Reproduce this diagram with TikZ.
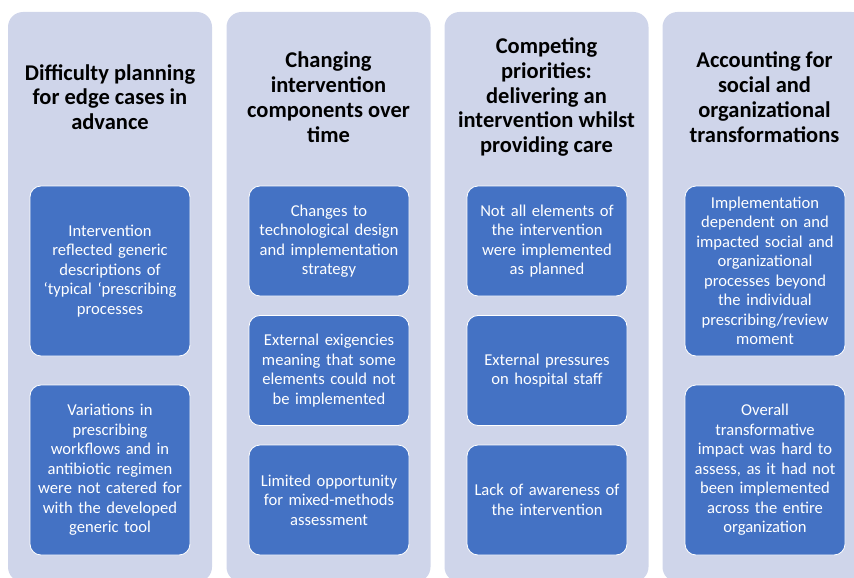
\documentclass[tikz,border=0pt]{standalone}
\usepackage{fontspec}
\setmainfont{Carlito}
\usepackage{tikz}
\definecolor{panelbg}{HTML}{CFD5EA}
\definecolor{boxblue}{HTML}{4472C4}

\begin{document}
\begin{tikzpicture}[x=1pt,y=-1pt]
\tikzstyle{panel}=[fill=panelbg,rounded corners=15pt,minimum width=204pt,minimum height=570pt,inner sep=0pt]
\tikzstyle{head}=[font=\fontsize{22.5}{24.8}\selectfont\bfseries,align=center,text=black,inner sep=0pt]
\tikzstyle{card}=[fill=boxblue,draw=white,line width=0.8pt,rounded corners=11pt,minimum width=160pt,text width=158pt,align=center,text=white,font=\fontsize{16.6}{19.5}\selectfont,inner sep=0pt]
\tikzstyle{cardtall}=[card,minimum height=170pt]
\tikzstyle{cardshort}=[card,minimum height=110pt]
\useasboundingbox (0,0) rectangle (854,578);
\clip (0,0) rectangle (854,578);
% columns
\node[panel] (p1) at (110,297) {};
\node[panel] (p2) at (328.5,297) {};
\node[panel] (p3) at (546.5,297) {};
\node[panel] (p4) at (764.5,297) {};
% headings
\node[head] (h1) at (110,97) {Difficulty planning\\for edge cases in\\advance};
\node[head] (h2) at (328.5,97) {Changing\\intervention\\components over\\time};
\node[head] (h3) at (546.5,97) {Competing\\priorities:\\delivering an\\intervention whilst\\providing care};
\node[head] (h4) at (764.5,97) {Accounting for\\social and\\organizational\\transformations};
% column 1
\node[cardtall] (a1) at (110,271) {Intervention\\reflected generic\\descriptions of\\‘typical ‘prescribing\\processes};
\node[cardtall] (a2) at (110,470) {Variations in\\prescribing\\workflows and in\\antibiotic regimen\\were not catered for\\with the developed\\generic tool};
% column 2
\node[cardshort] (b1) at (329,241) {Changes to\\technological design\\and implementation\\strategy};
\node[cardshort] (b2) at (329,370.5) {External exigencies\\meaning that some\\elements could not\\be implemented};
\node[cardshort] (b3) at (329,500) {Limited opportunity\\for mixed-methods\\assessment};
% column 3
\node[cardshort] (c1) at (547,241) {Not all elements of\\the intervention\\were implemented\\as planned};
\node[cardshort] (c2) at (547,370.5) {External pressures\\on hospital staff};
\node[cardshort] (c3) at (547,500) {Lack of awareness of\\the intervention};
% column 4
\node[cardtall] (d1) at (765,271) {Implementation\\dependent on and\\impacted social and\\organizational\\processes beyond\\the individual\\prescribing/review\\moment};
\node[cardtall] (d2) at (765,470) {Overall\\transformative\\impact was hard to\\assess, as it had not\\been implemented\\across the entire\\organization};
\end{tikzpicture}
\end{document}
